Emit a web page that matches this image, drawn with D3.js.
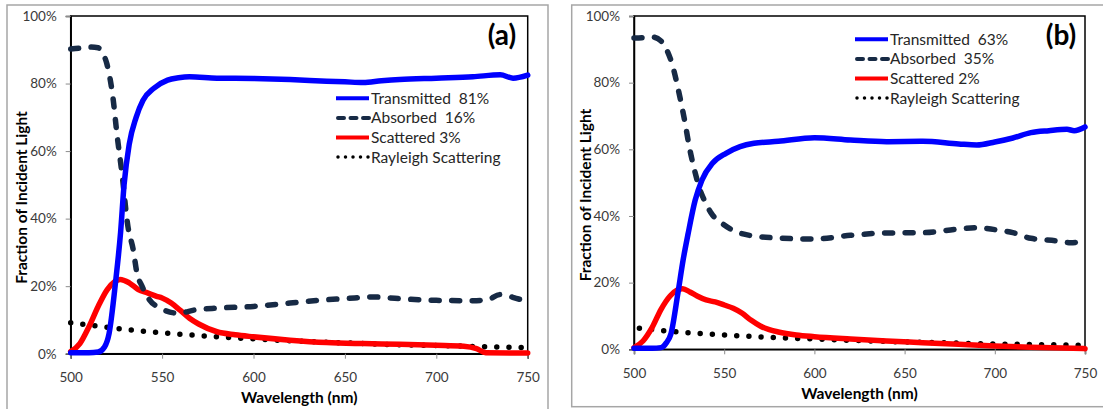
<!DOCTYPE html>
<html>
<head>
<meta charset="utf-8">
<script src="https://cdn.jsdelivr.net/npm/d3@7"></script>
<style>
  body { margin: 0; background: #fff; }
  svg { display: block; font-family: Lato, "Open Sans", sans-serif; }
  .tick text { fill: #3a3a3a; }
  .legtext { white-space: pre; }
</style>
</head>
<body>
<svg id="chart" width="1103" height="409"></svg>
<script>
// ---- data: [wavelength nm, percent] ----
var xTicks = [500, 550, 600, 650, 700, 750];
var yTicks = [0, 20, 40, 60, 80, 100];

var transmittedA = [[500,0.3],[510,0.3],[515,0.5],[518.5,2],[521,6],[524.5,21],[527.3,36],[529.2,50],[532,62],[535.8,70],[539.5,75],[545.5,78.6],[553,81],[559,81.7],[565,82],[580,81.6],[600,81.5],[620,81.2],[640,80.7],[650,80.5],[660,80.3],[670,80.8],[680,81.2],[700,81.6],[720,82],[735,82.6],[742,81.6],[750,82.5]];
var absorbedA = [[500,90.2],[505,90.5],[510,90.8],[515,90.6],[517.5,89],[519.7,86],[523.3,75],[525.2,65.5],[528,53.6],[531.3,37.7],[534.2,30.8],[536.2,24],[539,20],[543,16],[549,13.5],[558.7,12],[568.5,13],[580,13.5],[600,14],[620,15],[640,16],[650,16.3],[665,16.8],[680,16.3],[700,15.8],[720,15.7],[728,16],[735,17.5],[745,16.2],[750,15.5]];
var scatteredA = [[500,0.6],[505,3],[510,8],[515,14],[520,19],[524,21.3],[527,22],[532,21],[537,19],[542,18],[547,17],[550,16.5],[555,15],[560,12.8],[565,10.5],[570,8.8],[580,6.5],[590,5.6],[600,5],[620,4],[640,3.3],[660,3],[680,2.8],[700,2.5],[715,2.2],[722,1.5],[727,0.3],[750,0.2]];
var rayleighA = [[500,9.2],[510,8.5],[520,7.8],[530,7.2],[550,6.2],[575,5.2],[600,4.4],[625,3.7],[650,3.2],[675,2.7],[700,2.4],[725,2.1],[750,1.8]];

var transmittedB = [[500,0.3],[510,0.3],[515,0.5],[518,2],[520.5,4.7],[524.3,16.7],[527.2,26.7],[530,34.7],[533.9,44.7],[537.7,50.8],[543.5,55.8],[551,58.8],[558.8,60.8],[566.5,61.8],[580,62.4],[600,63.5],[620,62.8],[640,62.3],[660,62.4],[680,61.6],[690,61.3],[700,62.2],[710,63.4],[720,65],[730,65.6],[740,66],[744,65.6],[750,66.7]];
var absorbedB = [[500,93.4],[505,93.5],[510,93.7],[515,92.5],[518,90],[521,85.8],[525,76.8],[528,68.8],[531,59.8],[534,52.8],[536,48.8],[539,44.7],[543,40.7],[549,37.7],[557,35.2],[565,34.1],[580,33.4],[600,33.1],[620,34.2],[640,34.9],[660,35],[680,36.1],[690,36.5],[700,35.9],[710,35],[720,33.3],[735,32.5],[742,32],[750,32.5]];
var scatteredB = [[500,0.5],[505,2.5],[510,6.5],[515,12],[520,16],[524,17.8],[527,18.2],[531,17.2],[535,16],[540,14.8],[545,14.2],[550,13.3],[555,12.3],[560,10.8],[565,8.7],[570,7],[575,5.9],[580,5.2],[590,4.3],[600,3.8],[620,3.1],[640,2.5],[660,2],[680,1.5],[700,1],[720,0.6],[750,0.2]];
var rayleighB = [[503,6.3],[510,5.9],[520,5.4],[530,5],[550,4.3],[575,3.6],[600,3.1],[625,2.6],[650,2.2],[675,1.9],[700,1.6],[725,1.4],[750,1.2]];

var legendA = ["Transmitted  81%", "Absorbed  16%", "Scattered 3%", "Rayleigh Scattering"];
var legendB = ["Transmitted  63%", "Absorbed  35%", "Scattered 2%", "Rayleigh Scattering"];

// ---- styles ----
var styles = [
  {color: "#0000ff", width: 5.5, dash: null},
  {color: "#172a45", width: 5.5, dash: "8,12.5"},
  {color: "#ff0000", width: 5.5, dash: null},
  {color: "#000000", width: 5.5, dash: "0,12.2"}
];
var legendDash = [null, "6,6.5", null, "0,7.5"];

var svg = d3.select("#chart");

function drawPanel(p) {
  // outer frame
  svg.append("rect")
    .attr("x", p.frame[0]).attr("y", p.frame[1])
    .attr("width", p.frame[2]).attr("height", p.frame[3])
    .attr("fill", "none").attr("stroke", "#a6a6a6").attr("stroke-width", 1.5);

  var x = d3.scaleLinear().domain([500, 750]).range([p.left, p.right]);
  var y = d3.scaleLinear().domain([0, 100]).range([p.bottom, p.top]);

  var g = svg.append("g");

  // plot box
  g.append("rect")
    .attr("x", p.left).attr("y", p.top)
    .attr("width", p.right - p.left).attr("height", p.bottom - p.top)
    .attr("fill", "none").attr("stroke", "#000").attr("stroke-width", 1.5);

  var yAxis = d3.axisLeft(y).tickValues(yTicks).tickSize(5).tickPadding(9)
    .tickFormat(function(d) { return d + "%"; });
  var xAxis = d3.axisBottom(x).tickValues(xTicks).tickSize(5).tickPadding(14);

  var ya = g.append("g").attr("transform", "translate(" + p.left + ",0)").call(yAxis);
  var xa = g.append("g").attr("transform", "translate(0," + p.bottom + ")").call(xAxis);
  [ya, xa].forEach(function(a) {
    a.select(".domain").attr("stroke", "#000").attr("stroke-width", 1.5);
    a.selectAll(".tick line").attr("stroke", "#8c8c8c");
    a.selectAll(".tick text").attr("font-size", 13.5).attr("font-family", "Lato, sans-serif");
  });

  var line = d3.line()
    .x(function(d) { return x(d[0]); })
    .y(function(d) { return y(d[1]); })
    .curve(d3.curveMonotoneX);

  // draw order: rayleigh under, then scattered, absorbed, transmitted
  var order = [3, 2, 1, 0];
  order.forEach(function(i) {
    g.append("path")
      .datum(p.series[i])
      .attr("d", line)
      .attr("fill", "none")
      .attr("stroke", styles[i].color)
      .attr("stroke-width", styles[i].width)
      .attr("stroke-linecap", "round")
      .attr("stroke-linejoin", "round")
      .attr("stroke-dasharray", styles[i].dash);
  });

  // legend
  var lg = g.append("g");
  p.legend.forEach(function(txt, i) {
    var ly = p.legendY + i * 19.6;
    lg.append("line")
      .attr("x1", p.legendX + (i == 1 || i == 3 ? 2 : 0)).attr("x2", p.legendX + 33)
      .attr("y1", ly).attr("y2", ly)
      .attr("stroke", styles[i].color)
      .attr("stroke-width", i == 3 ? 3.5 : 4)
      .attr("stroke-linecap", i == 0 || i == 2 ? "butt" : "round")
      .attr("stroke-dasharray", legendDash[i]);
    lg.append("text")
      .attr("class", "legtext")
      .attr("x", p.legendX + 35).attr("y", ly + 5.5)
      .attr("font-size", 15.5)
      .attr("fill", "#262626")
      .text(txt);
  });

  // panel label
  g.append("text")
    .attr("x", p.tagX).attr("y", 45)
    .attr("text-anchor", "middle")
    .attr("font-size", 28).attr("font-weight", "bold")
    .attr("fill", "#000")
    .text(p.tag);

  // axis titles
  g.append("text")
    .attr("x", (p.left + p.right) / 2).attr("y", p.xTitleY)
    .attr("text-anchor", "middle")
    .attr("font-size", 15.5).attr("font-weight", "bold").attr("fill", "#000")
    .text("Wavelength (nm)");
  g.append("text")
    .attr("transform", "translate(" + p.yTitleX + "," + p.yTitleMid + ") rotate(-90)")
    .attr("text-anchor", "middle")
    .attr("font-size", 15.5).attr("font-weight", "bold").attr("fill", "#000")
    .text("Fraction of Incident Light");
}

drawPanel({
  frame: [7, 5, 541, 410],
  left: 70.7, right: 527.7, top: 16, bottom: 353.7,
  series: [transmittedA, absorbedA, scatteredA, rayleighA],
  legend: legendA, legendX: 336, legendY: 98.3,
  tag: "(a)", tagX: 502,
  xTitleY: 403, yTitleX: 27, yTitleMid: 197.5
});

drawPanel({
  frame: [571.7, 5, 540, 401.7],
  left: 634, right: 1085, top: 16, bottom: 349.3,
  series: [transmittedB, absorbedB, scatteredB, rayleighB],
  legend: legendB, legendX: 855, legendY: 39.3,
  tag: "(b)", tagX: 1061,
  xTitleY: 399, yTitleX: 591, yTitleMid: 195
});
</script>
</body>
</html>
